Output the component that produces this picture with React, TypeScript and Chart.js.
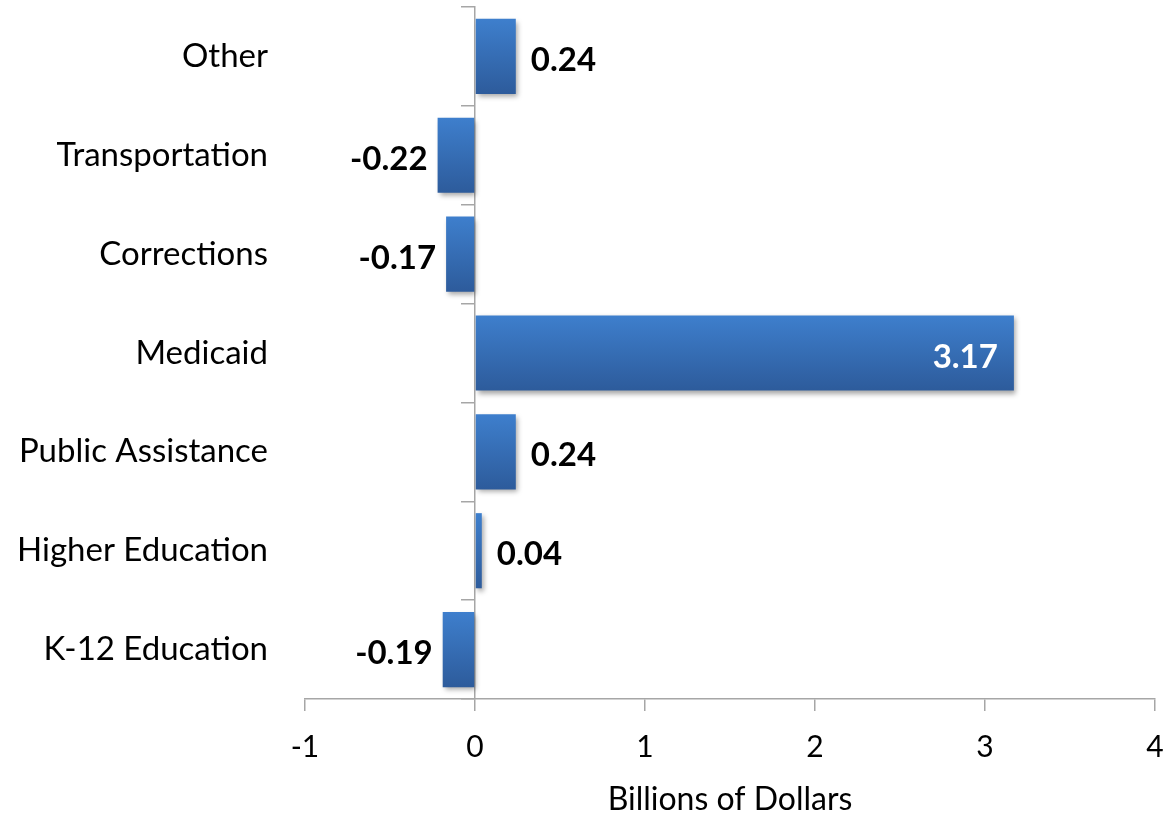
import React, { useEffect, useRef } from "react";
import { Chart, registerables } from "chart.js";

Chart.register(...registerables);

const categories = [
  "Other",
  "Transportation",
  "Corrections",
  "Medicaid",
  "Public Assistance",
  "Higher Education",
  "K-12 Education",
];
const values = [0.24, -0.22, -0.17, 3.17, 0.24, 0.04, -0.19];
const valueLabels = ["0.24", "-0.22", "-0.17", "3.17", "0.24", "0.04", "-0.19"];
const xMin = -1;
const xMax = 4;
const xTitle = "Billions of Dollars";

const FONT = "Lato, 'Liberation Sans', sans-serif";
const AXIS_GRAY = "#A6A6A6";

export default function App() {
  const canvasRef = useRef<HTMLCanvasElement | null>(null);

  useEffect(() => {
    const canvas = canvasRef.current;
    if (!canvas) return;

    const shadowPlugin = {
      id: "barShadow",
      beforeDatasetsDraw(chart: any) {
        const ctx = chart.ctx;
        ctx.save();
        ctx.shadowColor = "rgba(0,0,0,0.35)";
        ctx.shadowBlur = 5;
        ctx.shadowOffsetX = 2;
        ctx.shadowOffsetY = 3;
      },
      afterDatasetsDraw(chart: any) {
        chart.ctx.restore();
      },
    };

    const labelPlugin = {
      id: "valueLabels",
      afterDraw(chart: any) {
        const ctx = chart.ctx;
        const meta = chart.getDatasetMeta(0);
        const xs = chart.scales.x;
        ctx.save();
        ctx.font = `bold 33px ${FONT}`;
        ctx.textBaseline = "middle";
        meta.data.forEach((bar: any, i: number) => {
          const v = values[i];
          const end = xs.getPixelForValue(v);
          const y = bar.y + 4;
          const txt = valueLabels[i];
          if (v > 2) {
            ctx.fillStyle = "#FFFFFF";
            ctx.textAlign = "right";
            ctx.fillText(txt, end - 16, y);
          } else if (v >= 0) {
            ctx.fillStyle = "#000000";
            ctx.textAlign = "left";
            ctx.fillText(txt, end + 15, y);
          } else {
            ctx.fillStyle = "#000000";
            ctx.textAlign = "right";
            ctx.fillText(txt, end - 10, y);
          }
        });
        ctx.restore();
      },
    };

    const chart = new Chart(canvas, {
      type: "bar",
      data: {
        labels: categories,
        datasets: [
          {
            data: values,
            barPercentage: 0.76,
            categoryPercentage: 1,
            borderWidth: 0,
            backgroundColor: (c: any) => {
              const ch = c.chart;
              const ys = ch.scales && ch.scales.y;
              if (!ys || c.dataIndex === undefined) return "#3569B4";
              const cy = ys.getPixelForValue(c.dataIndex);
              if (!Number.isFinite(cy)) return "#3569B4";
              const g = ch.ctx.createLinearGradient(0, cy - 38, 0, cy + 38);
              g.addColorStop(0, "#3E7FCD");
              g.addColorStop(1, "#2D5B9B");
              return g;
            },
          },
        ],
      },
      options: {
        indexAxis: "y",
        animation: false,
        responsive: false,
        maintainAspectRatio: false,
        layout: { padding: { top: 7, right: 21, left: 1, bottom: 0 } },
        plugins: {
          legend: { display: false },
          tooltip: { enabled: false },
        },
        scales: {
          x: {
            type: "linear",
            min: xMin,
            max: xMax,
            ticks: {
              stepSize: 1,
              color: "#000000",
              font: { family: FONT, size: 30 },
              padding: 18,
            },
            grid: {
              drawOnChartArea: false,
              drawTicks: true,
              tickLength: 12,
              color: AXIS_GRAY,
              lineWidth: 1.5,
            },
            border: { display: true, color: AXIS_GRAY, width: 1.5 },
            title: {
              display: true,
              text: xTitle,
              color: "#000000",
              font: { family: FONT, size: 32, lineHeight: 1 },
              padding: { top: 18, bottom: 1 },
            },
            afterFit: (s: any) => {
              s.height = 118;
              s.paddingLeft = 0;
              s.paddingRight = 0;
            },
          },
          y: {
            type: "category",
            position: "left",
            ticks: {
              color: "#000000",
              font: { family: FONT, size: 33 },
              padding: 37,
            },
            grid: { display: false, drawTicks: false },
            border: { display: false },
            afterFit: (s: any) => {
              s.width = 304;
              s.paddingTop = 0;
              s.paddingBottom = 0;
            },
          },
          y2: {
            type: "category",
            axis: "y",
            labels: categories,
            position: { x: 0 },
            offset: true,
            ticks: { display: false },
            grid: {
              drawOnChartArea: false,
              drawTicks: true,
              tickLength: 13,
              color: AXIS_GRAY,
              lineWidth: 1.5,
              offset: true,
            },
            border: { display: true, color: AXIS_GRAY, width: 1.5 },
            afterFit: (s: any) => {
              s.paddingTop = 0;
              s.paddingBottom = 0;
              s.paddingLeft = 0;
              s.paddingRight = 0;
            },
          },
        },
      } as any,
      plugins: [shadowPlugin, labelPlugin],
    });

    return () => chart.destroy();
  }, []);

  return (
    <div style={{ position: "fixed", left: 0, top: 0, width: 1176, height: 817, background: "#fff" }}>
      <canvas ref={canvasRef} width={1176} height={817} style={{ width: 1176, height: 817 }} />
    </div>
  );
}
